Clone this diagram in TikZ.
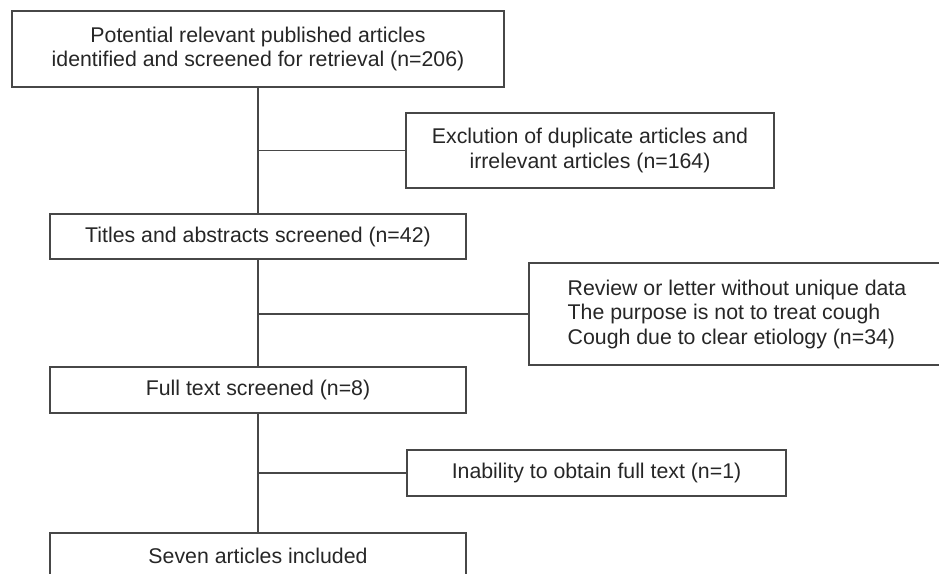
\documentclass[tikz,border=0pt]{standalone}
\usepackage{fontspec}
\setmainfont{Liberation Sans}
\begin{document}
\begin{tikzpicture}[x=1pt, y=-1pt, line width=1.7pt,
    box/.style={draw=black!72, text=black!85, align=center, inner sep=0pt,
        font=\fontsize{21.3}{24.5}\selectfont},
    link/.style={draw=black!72}]
\useasboundingbox (0,0) rectangle (939,573);
\clip (0,0) rectangle (939,573);
\node[box, minimum width=492pt, minimum height=76pt] (pot) at (258,49)
    {Potential relevant published articles\\identified and screened for retrieval (n=206)};
\node[box, minimum width=368pt, minimum height=75pt] (excl) at (590,150.5)
    {Exclution of duplicate articles and\\irrelevant articles (n=164)};
\node[box, minimum width=416pt, minimum height=45pt] (titles) at (258,236.5)
    {Titles and abstracts screened (n=42)};
\node[box, align=left, minimum width=416pt, minimum height=102pt] (review) at (737,314)
    {Review or letter without unique data\\The purpose is not to treat cough\\Cough due to clear etiology (n=34)};
\node[box, minimum width=416pt, minimum height=46pt] (full) at (258,390)
    {Full text screened (n=8)};
\node[box, minimum width=379pt, minimum height=46pt] (inab) at (596.5,473)
    {Inability to obtain full text (n=1)};
\node[box, minimum width=416pt, minimum height=46pt] (seven) at (258,556)
    {Seven articles included};
% main line
\foreach \a/\b in {pot/titles, titles/full, full/seven}
{
    \draw[link] (\a.south) -- (\b.north);
}
% side boxes
\foreach \c in {excl, review, inab}
{
    \coordinate (\c-j) at (\c.west -| pot.south);
    \draw[link] (\c-j) -- (\c.west);
}
\end{tikzpicture}
\end{document}
